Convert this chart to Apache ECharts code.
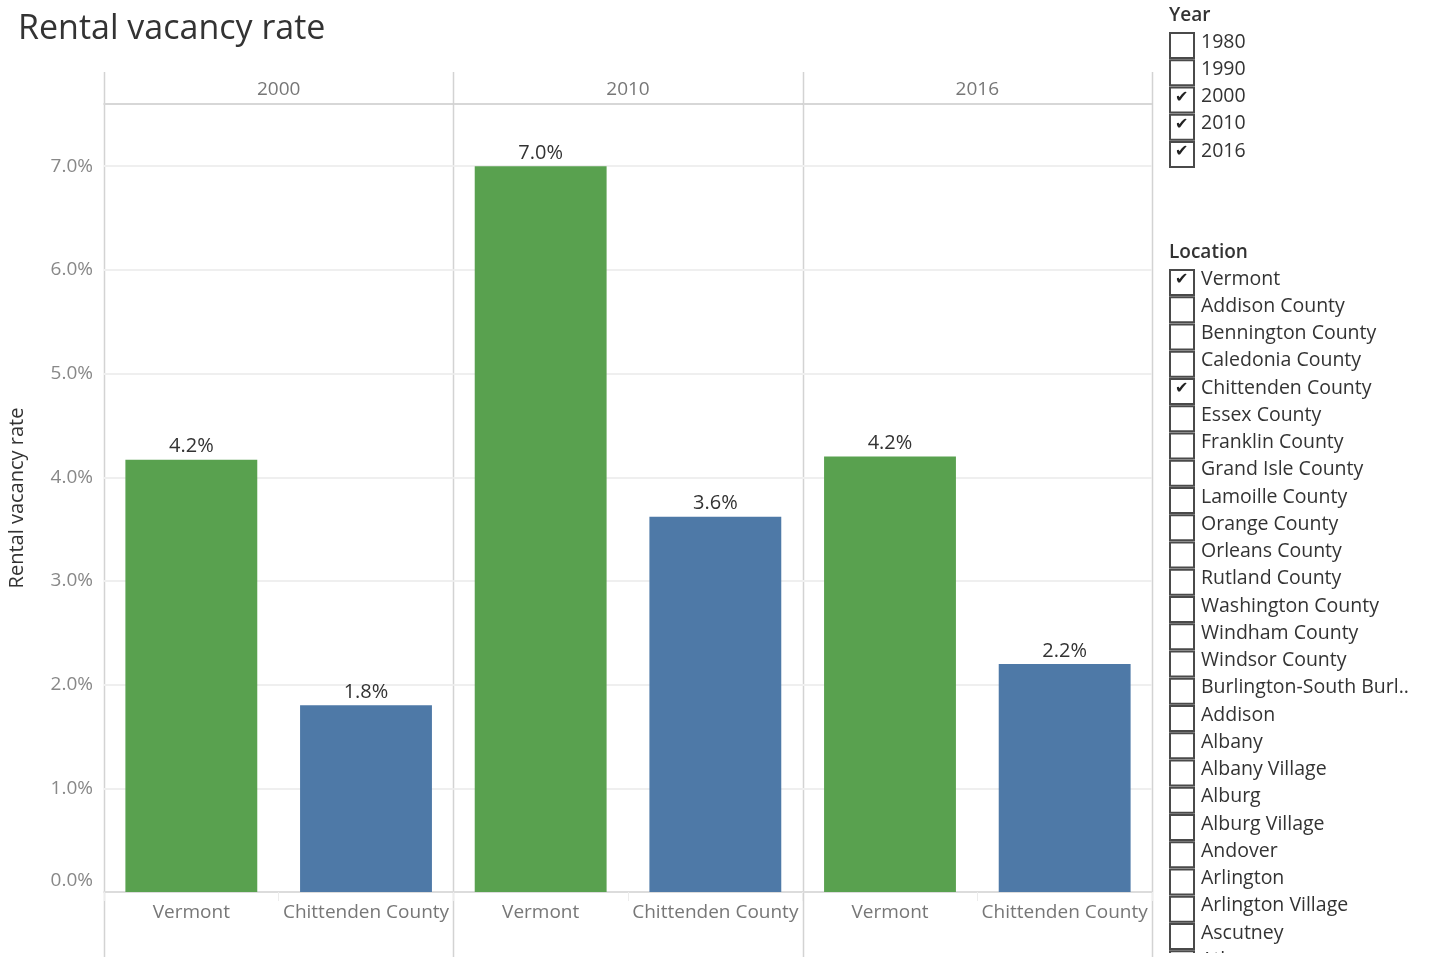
<!DOCTYPE html>
<html>
<head>
<meta charset="utf-8">
<script src="https://cdn.jsdelivr.net/npm/echarts@6/dist/echarts.min.js"></script>
<style>
  html, body { margin: 0; padding: 0; background: #fff; }
  #rental-vacancy { width: 1429px; height: 957px; }
</style>
</head>
<body>
<div id="rental-vacancy"></div>
<script>
// data
var years = ['2000', '2010', '2016']
var locations = ['Vermont', 'Chittenden County']
var vermontRate = [4.17, 7.0, 4.2]
var chittendenRate = [1.8, 3.62, 2.2]
var yTicks = [0, 1, 2, 3, 4, 5, 6, 7]

// filter panel entries
var yearFilter = ['1980', '1990', '2000', '2010', '2016']
var yearChecked = ['2000', '2010', '2016']
var locationFilter = ['Vermont', 'Addison County', 'Bennington County', 'Caledonia County',
  'Chittenden County', 'Essex County', 'Franklin County', 'Grand Isle County', 'Lamoille County',
  'Orange County', 'Orleans County', 'Rutland County', 'Washington County', 'Windham County',
  'Windsor County', 'Burlington-South Burl..', 'Addison', 'Albany', 'Albany Village', 'Alburg',
  'Alburg Village', 'Andover', 'Arlington', 'Arlington Village', 'Ascutney', 'Athens']
var locationChecked = ['Vermont', 'Chittenden County']

var colorArr = ['#59A14F', '#4E79A7']
var font = 'Open Sans'

var myChart = echarts.init(document.getElementById('rental-vacancy'))

var panelLeft = 104
var panelWidth = (1152 - 104) / years.length
var plotTop = 104
var plotHeight = 892 - 104

var grid = [], xAxis = [], yAxis = [], series = []
years.forEach(function (year, i) {
  grid.push({
    left: panelLeft + i * panelWidth,
    width: panelWidth,
    top: plotTop,
    height: plotHeight,
    outerBoundsMode: 'none'
  })
  // bottom category axis
  xAxis.push({
    type: 'category',
    gridIndex: i,
    data: locations,
    axisLine: { lineStyle: { color: '#d6d6d6', width: 1.5 } },
    axisTick: { show: true, length: 9, lineStyle: { color: '#ececec' } },
    axisLabel: { color: '#777', fontSize: 19, fontFamily: font, margin: 11, interval: 0 }
  })
  // top header with the year
  xAxis.push({
    type: 'category',
    gridIndex: i,
    position: 'top',
    data: [year],
    axisLine: { lineStyle: { color: '#cfcfcf', width: 1.5 } },
    axisTick: { show: false },
    axisLabel: { color: '#777', fontSize: 19, fontFamily: font, margin: 5 }
  })
  yAxis.push({
    type: 'value',
    gridIndex: i,
    min: 0,
    max: 7.6,
    interval: 1,
    axisLine: { show: false },
    axisTick: { show: false },
    splitLine: { lineStyle: { color: '#efefef', width: 2 } },
    axisLabel: {
      show: i === 0,
      color: '#888',
      fontSize: 19,
      fontFamily: font,
      margin: 11,
      formatter: function (v) {
        if (yTicks.indexOf(v) < 0) return ''
        // the bottom tick sits a little above the baseline
        return v === 0 ? '{z|0.0%}' : v.toFixed(1) + '%'
      },
      rich: { z: { color: '#888', fontSize: 19, fontFamily: font, padding: [0, 0, 22, 0] } }
    },
    name: i === 0 ? 'Rental vacancy rate' : '',
    nameLocation: 'middle',
    nameGap: 77,
    nameTextStyle: { color: '#333', fontSize: 20, fontFamily: font }
  })
  series.push({
    type: 'bar',
    xAxisIndex: i * 2,
    yAxisIndex: i,
    barWidth: '75.5%',
    data: [
      { value: vermontRate[i], itemStyle: { color: colorArr[0] } },
      { value: chittendenRate[i], itemStyle: { color: colorArr[1] } }
    ],
    label: {
      show: true,
      position: 'top',
      distance: 3,
      color: '#333',
      fontSize: 20,
      fontFamily: font,
      formatter: function (p) { return p.value.toFixed(1) + '%' }
    }
  })
})

// panel separators
var graphic = []
for (var k = 0; k <= years.length; k++) {
  var x = Math.round(panelLeft + k * panelWidth) + 0.5
  graphic.push({
    type: 'line',
    shape: { x1: x, y1: 72, x2: x, y2: 957 },
    style: { stroke: '#d3d3d3', lineWidth: 1.5 }
  })
}

// filter lists on the right
var rowStep = 27.25
function addFilter(title, items, checked, titleY, firstY) {
  graphic.push({
    type: 'text', left: 1169, top: titleY - 12,
    style: { text: title, fill: '#333', font: '600 19px "' + font + '"' }
  })
  items.forEach(function (name, j) {
    var cy = firstY + j * rowStep
    graphic.push({
      type: 'rect',
      shape: { x: 1170, y: cy - 12, width: 24, height: 25 },
      style: { fill: '#fff', stroke: '#4a4a4a', lineWidth: 2 }
    })
    if (checked.indexOf(name) >= 0) {
      graphic.push({
        type: 'text', left: 1175, top: cy - 10,
        style: { text: '\u2714', fill: '#222', font: 'bold 16px "DejaVu Sans"' }
      })
    }
    graphic.push({
      type: 'text', left: 1201, top: cy - 13,
      style: { text: name, fill: '#333', font: '19.5px "' + font + '"' }
    })
  })
}
addFilter('Year', yearFilter, yearChecked, 18, 45)
addFilter('Location', locationFilter, locationChecked, 255, 282)
// clip the list like the scrolling panel
graphic.push({
  type: 'rect', z: 100,
  shape: { x: 1160, y: 953, width: 269, height: 10 },
  style: { fill: '#fff' }
})

var option = {
  title: {
    text: 'Rental vacancy rate',
    left: 13,
    top: 7,
    textStyle: { color: '#333', fontSize: 34, fontWeight: 'normal', fontFamily: font }
  },
  grid: grid,
  xAxis: xAxis,
  yAxis: yAxis,
  series: series,
  graphic: graphic,
  animation: false
}
myChart.setOption(option)
</script>
</body>
</html>
